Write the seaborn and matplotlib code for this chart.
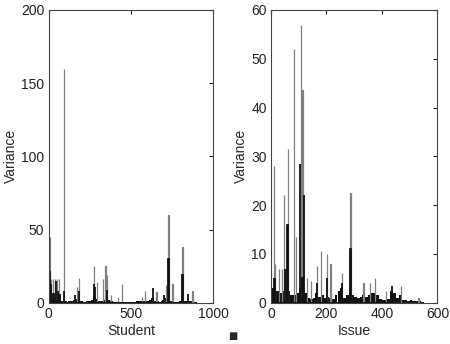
import numpy as np
import pandas as pd
import seaborn as sns
import matplotlib.pyplot as plt

# left panel: per-student variance
student_spike_x = [8, 15, 25, 38, 52, 62, 96, 170, 187, 278, 292, 330, 345, 354, 380, 420, 445,
                   569, 587, 655, 715, 728, 752, 813, 874]
student_spike_y = [45, 16, 16, 16, 16, 16, 160, 11, 17, 25, 14, 16, 25, 19, 5, 4, 13,
                   4, 8, 7, 12, 60, 13, 38, 8]
student_dark_x = [6, 12, 30, 45, 55, 66, 96, 160, 187, 278, 283, 354, 634, 700, 728, 813, 848]
student_dark_y = [22, 12, 6, 15, 8, 5, 8, 5, 8, 13, 11, 9, 10, 5, 30, 19, 6]
student_floor_x = list(range(0, 900, 10))
student_floor_y = [4, 3, 2.5, 3, 2, 3, 2, 1.5, 1, 1.5, 1, 0.8, 1, 1.5, 1.2, 2, 2.5, 3, 2, 1.5,
                   1, 0.8, 0.8, 1, 1, 1.2, 2, 3, 4, 2.5, 1, 1, 1.5, 2, 2.5, 3, 2, 1.5, 1, 0.8,
                   0.8, 0.6, 0.6, 0.8, 0.6, 0.5, 0.5, 0.5, 0.4, 0.4, 0.5, 0.6, 0.8, 1, 1, 1.2, 1.5, 1.5, 1.2, 1,
                   1.5, 2, 3, 2.5, 1.5, 1.2, 1, 0.8, 1.5, 2, 3, 2.5, 2, 1.5, 1.2, 1, 0.8, 0.8, 0.8, 1,
                   1.5, 1.2, 1, 1.2, 1.5, 1.2, 1, 0.8, 0.6, 0.5]

# right panel: per-issue variance
issue_spike_x = [10, 16, 28, 40, 48, 53, 61, 82, 91, 108, 114, 130, 145, 166, 181, 203, 215,
                 256, 287, 334, 358, 376, 415, 468, 532]
issue_spike_y = [28, 8, 7, 7, 22, 7, 31.5, 52, 13.5, 57, 43.5, 5, 4.5, 7.5, 10.5, 10, 8,
                 6, 22.5, 4, 4, 5, 2.5, 3.5, 1]
issue_dark_x = [12, 16, 50, 60, 104, 114, 119, 166, 203, 256, 287, 436]
issue_dark_y = [5, 5, 7, 16, 28.5, 5, 22, 4, 5, 4, 11, 3.5]
issue_floor_x = list(range(0, 550, 10))
issue_floor_y = [3, 4.5, 2.5, 2, 2.5, 3, 2.5, 1.5, 1.5, 2, 3, 4.5, 2, 1, 0.8, 1, 2, 1.2, 1.5, 1,
                 1.2, 1, 0.8, 1.5, 2.5, 3, 1, 1.5, 2, 1.5, 1.2, 1, 1.2, 1.5, 1.2, 1.5, 2, 2, 1.5,
                 0.8, 0.5, 0.6, 0.7, 2.5, 2, 1, 1.5, 0.6, 0.5, 0.4, 0.5, 0.4, 0.3, 0.3, 0.2]

sns.set_style('white')
plt.rcParams['font.family'] = ['Liberation Sans', 'DejaVu Sans']
plt.rcParams['font.size'] = 10

fig = plt.figure(figsize=(4.5, 3.44), dpi=100)
ax1 = fig.add_axes([0.108, 0.12, 0.366, 0.851])
ax2 = fig.add_axes([0.602, 0.12, 0.37, 0.851])


def draw_panel(ax, fx, fy, fwidth, sx, sy, dx, dy):
    sns.histplot(x=fx, weights=fy, binwidth=fwidth, binrange=(0, fx[-1] + fwidth), ax=ax,
                 color='#111111', alpha=1, linewidth=0)
    sns.histplot(x=sx, weights=sy, discrete=True, ax=ax, color='#808080', alpha=1,
                 edgecolor='#808080', linewidth=0.9)
    sns.histplot(x=dx, weights=dy, discrete=True, ax=ax, color='#111111', alpha=1,
                 edgecolor='#111111', linewidth=1.3)


draw_panel(ax1, student_floor_x, student_floor_y, 10, student_spike_x, student_spike_y,
           student_dark_x, student_dark_y)
draw_panel(ax2, issue_floor_x, issue_floor_y, 10, issue_spike_x, issue_spike_y,
           issue_dark_x, issue_dark_y)

ax1.set_xlim(0, 1000)
ax1.set_ylim(0, 200)
ax1.set_xticks([0, 500, 1000])
ax1.set_yticks([0, 50, 100, 150, 200])
ax1.set_xlabel('Student')
ax2.set_xlim(0, 600)
ax2.set_ylim(0, 60)
ax2.set_xticks([0, 200, 400, 600])
ax2.set_yticks([0, 10, 20, 30, 40, 50, 60])
ax2.set_xlabel('Issue')

for ax in (ax1, ax2):
    ax.set_ylabel('Variance', labelpad=2)
    ax.xaxis.labelpad = 2
    ax.tick_params(direction='in', length=3, top=True, right=True, pad=3, colors='#222222')
    for s in ax.spines.values():
        s.set_color('#444444')
        s.set_linewidth(0.8)

fig.text(0.518, 0.022, '\u25a0', fontsize=7, ha='center', va='center', family='DejaVu Sans')

fig.savefig('out.png', dpi=100)
